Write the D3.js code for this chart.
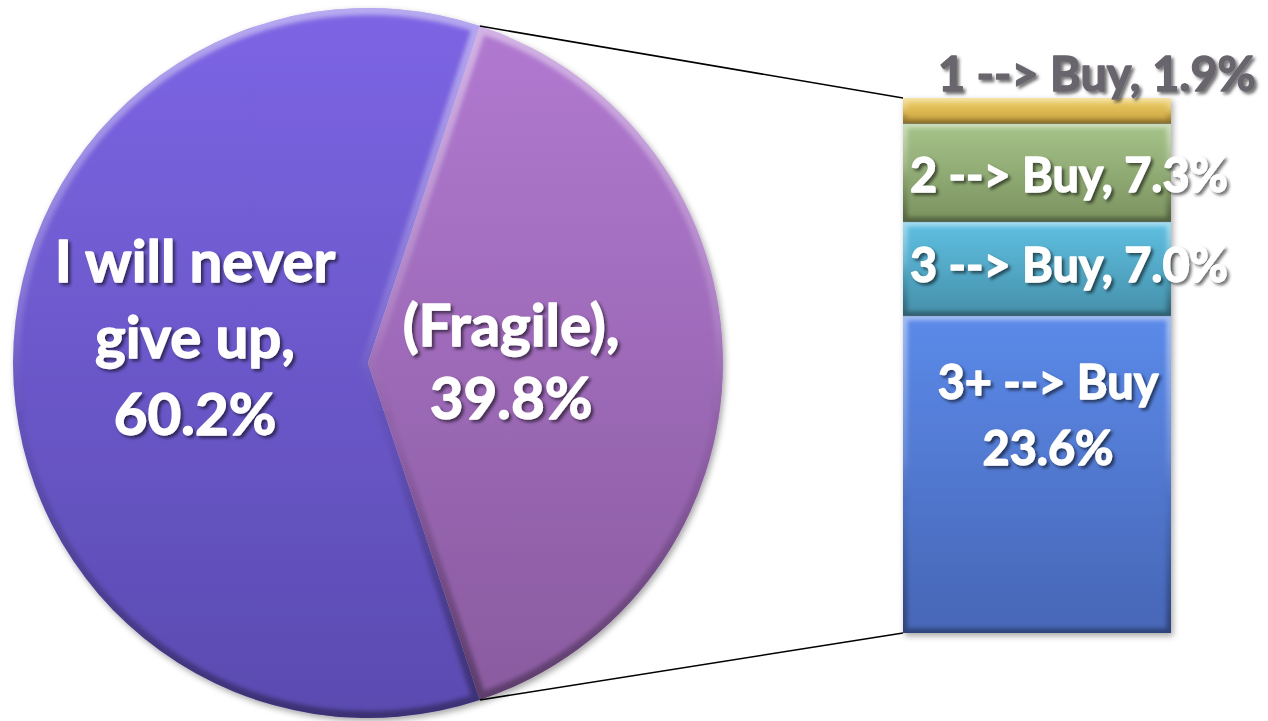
<!DOCTYPE html>
<html><head><meta charset="utf-8">
<script src="https://cdn.jsdelivr.net/npm/d3@7"></script>
<style>html,body{margin:0;padding:0;background:#fff;overflow:hidden}</style>
</head><body>
<svg id="chart" width="1268" height="721"></svg>
<script>
// ---------- data ----------
const pieCategories = ["I will never give up", "(Fragile)"];
const pieValues = [60.2, 39.8];
const pieLabelLines = [["I will never", "give up,", "60.2%"], ["(Fragile),", "39.8%"]];

const barCategories = ["3+ --> Buy", "3 --> Buy", "2 --> Buy", "1 --> Buy"]; // bottom to top
const barValues = [23.6, 7.0, 7.3, 1.9];
const barLabelLines = [["3+ --> Buy", "23.6%"], ["3 --> Buy, 7.0%"], ["2 --> Buy, 7.3%"], ["1 --> Buy, 1.9%"]];

// ---------- styles ----------
const pieColors = [["#7d65e4", "#5a4bb0"], ["#b27ad2", "#895a9e"]];
const barColors = [["#5b8ae9", "#4766b6"], ["#5fc0e2", "#4690aa"], ["#a6c48a", "#7b925f"], ["#efcf66", "#c9a23e"]];
const fontFam = "Lato, 'Open Sans', sans-serif";

// ---------- layout ----------
const W = 1268, H = 721;
const cx = 368, cy = 363, R = 355;
const barX0 = 903, barX1 = 1171, barTop = 98, barBottom = 633;

const svg = d3.select("#chart");
const defs = svg.append("defs");

// filters
const sh = defs.append("filter").attr("id", "txtShadow").attr("x", "-10%").attr("y", "-30%").attr("width", "130%").attr("height", "170%");
sh.append("feDropShadow").attr("dx", 2.5).attr("dy", 2.5).attr("stdDeviation", 1.8).attr("flood-color", "#000").attr("flood-opacity", 0.55);
const osh = defs.append("filter").attr("id", "objShadow").attr("x", "-10%").attr("y", "-10%").attr("width", "125%").attr("height", "125%");
osh.append("feDropShadow").attr("dx", 2).attr("dy", 3).attr("stdDeviation", 3).attr("flood-color", "#000").attr("flood-opacity", 0.35);
const blur = defs.append("filter").attr("id", "bevBlur").attr("x", "-5%").attr("y", "-5%").attr("width", "110%").attr("height", "110%");
blur.append("feGaussianBlur").attr("stdDeviation", 2);

function vGrad(id, c0, c1, y0, y1) {
  const g = defs.append("linearGradient").attr("id", id).attr("gradientUnits", "userSpaceOnUse")
    .attr("x1", 0).attr("x2", 0).attr("y1", y0).attr("y2", y1);
  g.append("stop").attr("offset", "0%").attr("stop-color", c0);
  g.append("stop").attr("offset", "100%").attr("stop-color", c1);
}
function bevelGrad(id, y0, y1) {
  const g = defs.append("linearGradient").attr("id", id).attr("gradientUnits", "userSpaceOnUse")
    .attr("x1", 0).attr("x2", 0).attr("y1", y0).attr("y2", y1);
  g.append("stop").attr("offset", "0%").attr("stop-color", "#fff").attr("stop-opacity", 0.45);
  g.append("stop").attr("offset", "45%").attr("stop-color", "#fff").attr("stop-opacity", 0.12);
  g.append("stop").attr("offset", "60%").attr("stop-color", "#000").attr("stop-opacity", 0.05);
  g.append("stop").attr("offset", "100%").attr("stop-color", "#000").attr("stop-opacity", 0.35);
}

// ---------- pie ----------
const total = d3.sum(pieValues);
const fragFrac = pieValues[1] / total;
const startA = Math.PI / 2 + fragFrac * Math.PI;
const pie = d3.pie().sort(null).startAngle(startA).endAngle(startA + 2 * Math.PI);
const arcs = pie(pieValues);
const arc = d3.arc().innerRadius(0).outerRadius(R);

const pieG = svg.append("g").attr("transform", `translate(${cx},${cy})`);
const pieShapes = pieG.append("g").attr("filter", "url(#objShadow)");
arcs.forEach((a, i) => {
  vGrad("pg" + i, pieColors[i][0], pieColors[i][1], -R, R);
  bevelGrad("pb" + i, -R, R);
  defs.append("clipPath").attr("id", "pc" + i).append("path").attr("d", arc(a)).attr("transform", `translate(${cx},${cy})`);
});
arcs.forEach((a, i) => {
  pieShapes.append("path").attr("d", arc(a)).attr("fill", `url(#pg${i})`);
});
const bevG = svg.append("g");
arcs.forEach((a, i) => {
  bevG.append("g").attr("clip-path", `url(#pc${i})`)
    .append("path").attr("transform", `translate(${cx},${cy})`).attr("d", arc(a))
    .attr("fill", "none").attr("stroke", `url(#pb${i})`).attr("stroke-width", 14)
    .attr("stroke-linejoin", "round").attr("filter", "url(#bevBlur)");
});

// ---------- bar ----------
const y = d3.scaleLinear().domain([0, d3.sum(barValues)]).range([barBottom, barTop]);
const x = d3.scaleBand().domain(["bar"]).range([barX0, barX1]).padding(0);
const cum = Array.from(d3.cumsum(barValues));
const segs = barValues.map((v, i) => ({ i, v, y0: cum[i] - v, y1: cum[i] }));

const barG = svg.append("g").attr("filter", "url(#objShadow)");
segs.forEach(s => {
  vGrad("bg" + s.i, barColors[s.i][0], barColors[s.i][1], y(s.y1), y(s.y0));
  bevelGrad("bb" + s.i, y(s.y1), y(s.y0));
  defs.append("clipPath").attr("id", "bc" + s.i).append("rect")
    .attr("x", x("bar")).attr("y", y(s.y1)).attr("width", x.bandwidth()).attr("height", y(s.y0) - y(s.y1));
});
barG.selectAll("rect.seg").data(segs).join("rect").attr("class", "seg")
  .attr("x", x("bar")).attr("y", d => y(d.y1)).attr("width", x.bandwidth())
  .attr("height", d => y(d.y0) - y(d.y1)).attr("fill", d => `url(#bg${d.i})`);
const barBev = svg.append("g");
segs.forEach(s => {
  barBev.append("g").attr("clip-path", `url(#bc${s.i})`).append("rect")
    .attr("x", x("bar")).attr("y", y(s.y1)).attr("width", x.bandwidth()).attr("height", y(s.y0) - y(s.y1))
    .attr("fill", "none").attr("stroke", `url(#bb${s.i})`).attr("stroke-width", 9).attr("filter", "url(#bevBlur)");
});
barBev.selectAll("line.sep").data(segs.slice(1)).join("line")
  .attr("x1", barX0).attr("x2", barX1).attr("y1", d => y(d.y0)).attr("y2", d => y(d.y0))
  .attr("stroke", "#000").attr("stroke-opacity", 0.25).attr("stroke-width", 1);

// ---------- connector lines ----------
const fr = arcs[1];
const pTop = [cx + R * Math.sin(fr.startAngle), cy - R * Math.cos(fr.startAngle)];
const pBot = [cx + R * Math.sin(fr.endAngle), cy - R * Math.cos(fr.endAngle)];
svg.append("line").attr("x1", pTop[0]).attr("y1", pTop[1]).attr("x2", x("bar")).attr("y2", y(d3.sum(barValues)))
  .attr("stroke", "#000").attr("stroke-width", 1.6);
svg.append("line").attr("x1", pBot[0]).attr("y1", pBot[1]).attr("x2", x("bar")).attr("y2", y(0))
  .attr("stroke", "#000").attr("stroke-width", 1.6);

// ---------- labels ----------
const boldStroke = 1.3;
function fitSize(str, targetW) {
  const t = svg.append("text").attr("font-family", fontFam).attr("font-weight", 700).attr("font-size", 100).text(str);
  const w = t.node().getComputedTextLength();
  t.remove();
  return 100 * (targetW - boldStroke) / w;
}
const pieFont = (fitSize("60.2%", 156) + fitSize("I will never", 284) + fitSize("(Fragile),", 227)) / 3;
const barFont = (fitSize("2 --> Buy, 7.3%", 322) + fitSize("23.6%", 131) + fitSize("1 --> Buy, 1.9%", 320)) / 3;

const txtG = svg.append("g").attr("font-family", fontFam).attr("font-weight", 700).attr("filter", "url(#txtShadow)");

const pieLabelPos = [
  { r: 173, baselines: [282, 358, 435] },
  { r: 143, baselines: [346, 419] }
];
arcs.forEach((a, i) => {
  const mid = (a.startAngle + a.endAngle) / 2;
  const lx = cx + pieLabelPos[i].r * Math.sin(mid);
  pieLabelLines[i].forEach((ln, j) => {
    txtG.append("text").attr("x", lx).attr("y", pieLabelPos[i].baselines[j])
      .attr("text-anchor", "middle").attr("font-size", pieFont).attr("fill", "#fff")
      .attr("stroke", "#fff").attr("stroke-width", boldStroke).attr("stroke-linejoin", "round").text(ln);
  });
});

const barLabelPos = [
  { x: 1048, anchor: "middle", baselines: [399, 465], fill: "#fff" },
  { x: 910, anchor: "start", baselines: [282], fill: "#fff" },
  { x: 910, anchor: "start", baselines: [192], fill: "#fff" },
  { x: 938, anchor: "start", baselines: [91], fill: "#68656d" }
];
barLabelLines.forEach((lines, i) => {
  lines.forEach((ln, j) => {
    txtG.append("text").attr("x", barLabelPos[i].x).attr("y", barLabelPos[i].baselines[j])
      .attr("text-anchor", barLabelPos[i].anchor).attr("font-size", barFont)
      .attr("fill", barLabelPos[i].fill).attr("stroke", barLabelPos[i].fill)
      .attr("stroke-width", boldStroke).attr("stroke-linejoin", "round").text(ln);
  });
});
</script>
</body></html>
